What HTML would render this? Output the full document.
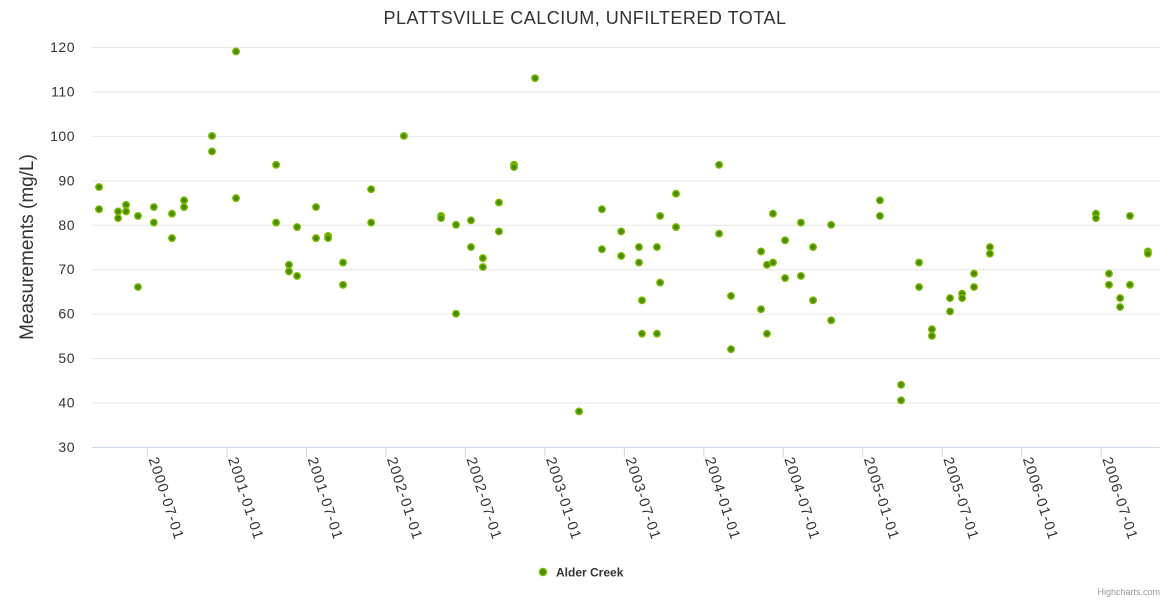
<!DOCTYPE html>
<html><head><meta charset="utf-8"><style>
body{margin:0;background:#fff;}
svg{display:block;font-family:"Liberation Sans","DejaVu Sans",sans-serif;}
</style></head><body>
<svg id="chart" width="1170" height="600">
<text x="585" y="24" text-anchor="middle" font-size="18" fill="#333" letter-spacing="0.5">PLATTSVILLE CALCIUM, UNFILTERED TOTAL</text>
<text transform="translate(33,247) rotate(-90)" text-anchor="middle" font-size="19" fill="#333">Measurements (mg/L)</text>
<g id="grid"></g><g id="xaxis"></g><g id="points"></g>
<g>
<circle cx="543" cy="572" r="3.5" fill="#4a8a00" stroke="#7ab800" stroke-width="1.5"/>
<text x="556" y="576.5" font-size="12" font-weight="bold" fill="#333">Alder Creek</text>
</g>
<text x="1160" y="595" text-anchor="end" font-size="9" fill="#999">Highcharts.com</text>
</svg>
<script>
const xs=[2000.195,2000.195,2000.315,2000.315,2000.365,2000.365,2000.440,2000.440,2000.540,2000.540,2000.654,2000.654,2000.730,2000.730,2000.906,2000.906,2001.057,2001.057,2001.309,2001.309,2001.390,2001.390,2001.441,2001.441,2001.560,2001.560,2001.636,2001.636,2001.730,2001.730,2001.907,2001.907,2002.113,2002.347,2002.347,2002.441,2002.441,2002.535,2002.535,2002.610,2002.610,2002.711,2002.711,2002.806,2002.806,2002.938,2003.215,2003.359,2003.359,2003.480,2003.480,2003.592,2003.592,2003.611,2003.611,2003.705,2003.705,2003.725,2003.725,2003.825,2003.825,2004.096,2004.096,2004.171,2004.171,2004.360,2004.360,2004.397,2004.397,2004.435,2004.435,2004.511,2004.511,2004.611,2004.611,2004.687,2004.687,2004.801,2004.801,2005.108,2005.108,2005.241,2005.241,2005.354,2005.354,2005.435,2005.435,2005.549,2005.549,2005.625,2005.625,2005.700,2005.700,2005.800,2005.800,2006.467,2006.467,2006.549,2006.549,2006.619,2006.619,2006.681,2006.681,2006.794,2006.794];
const vals=[88.5,83.5,83,81.5,84.5,83,82,66,84,80.5,82.5,77,85.5,84,100,96.5,119,86,93.5,80.5,71,69.5,79.5,68.5,84,77,77.5,77,71.5,66.5,88,80.5,100,82,81.5,80,60,81,75,72.5,70.5,85,78.5,93.5,93,113,38,83.5,74.5,78.5,73,75,71.5,63,55.5,75,55.5,82,67,87,79.5,93.5,78,64,52,74,61,71,55.5,82.5,71.5,76.5,68,80.5,68.5,75,63,80,58.5,85.5,82,44,40.5,71.5,66,56.5,55,63.5,60.5,64.5,63.5,69,66,75,73.5,82.5,81.5,69,66.5,63.5,61.5,82,66.5,74,73.5];
const yTicks=[30,40,50,60,70,80,90,100,110,120];
const xTickLabels=["2000-07-01","2001-01-01","2001-07-01","2002-01-01","2002-07-01","2003-01-01","2003-07-01","2004-01-01","2004-07-01","2005-01-01","2005-07-01","2006-01-01","2006-07-01"];
const NS="http://www.w3.org/2000/svg";
const X=t=>147.5+(t-2000.5)*158.95;
const Y=v=>447-(v-30)*4.444;
const lblT=s=>{const p=s.split('-');return +p[0]+(+p[1]-1)/12;};
const grid=document.getElementById('grid');
yTicks.forEach(v=>{
 const l=document.createElementNS(NS,'line');
 l.setAttribute('x1',92);l.setAttribute('x2',1160);l.setAttribute('y1',Y(v)+0.5);l.setAttribute('y2',Y(v)+0.5);
 l.setAttribute('stroke',v===30?'#ccd6eb':'#e6e6e6');
 
 
 grid.appendChild(l);
 const t=document.createElementNS(NS,'text');
 t.setAttribute('x',75);t.setAttribute('y',Y(v)+5);t.setAttribute('text-anchor','end');t.setAttribute('font-size','14');t.setAttribute('fill','#333');t.setAttribute('letter-spacing','0.5');
 t.textContent=v;
 
 
 grid.appendChild(t);
});
const xa=document.getElementById('xaxis');
xTickLabels.forEach(s=>{
 const x=X(lblT(s));
 const l=document.createElementNS(NS,'line');
 l.setAttribute('x1',x);l.setAttribute('x2',x);l.setAttribute('y1',447);l.setAttribute('y2',457);l.setAttribute('stroke','#ccd6eb');
 
 
 xa.appendChild(l);
 const t=document.createElementNS(NS,'text');
 t.setAttribute('transform','translate('+(x+1)+',459) rotate(72)');
 t.setAttribute('font-size','14.5');t.setAttribute('fill','#333');t.setAttribute('letter-spacing','1.2');
 t.textContent=s;
 
 
 xa.appendChild(t);
});
const pg=document.getElementById('points');
xs.forEach((t,i)=>{
 const c=document.createElementNS(NS,'circle');
 c.setAttribute('cx',X(t));c.setAttribute('cy',Y(vals[i]));c.setAttribute('r',3.2);
 c.setAttribute('fill','#4a8a00');c.setAttribute('stroke','#7ab800');c.setAttribute('stroke-width','1.5');
 
 
 pg.appendChild(c);
});
</script>
</body></html>
